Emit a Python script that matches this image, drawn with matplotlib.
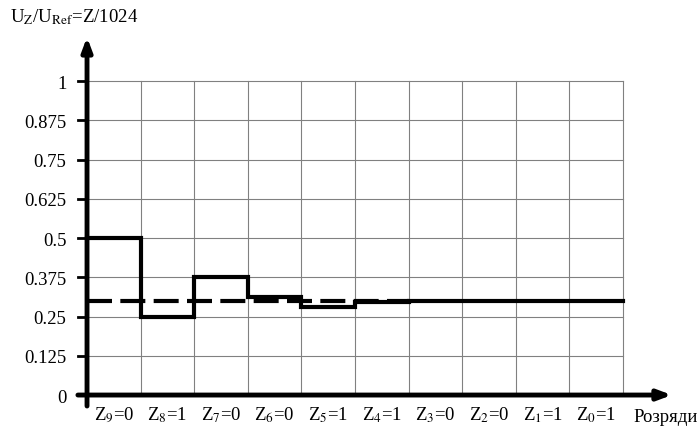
import numpy as np
import matplotlib.pyplot as plt

plt.rcParams['font.family'] = ['Liberation Serif', 'DejaVu Serif']
plt.rcParams['mathtext.fontset'] = 'stix'

# successive approximation trial values for bits Z9..Z0
bit_names = ['9', '8', '7', '6', '5', '4', '3', '2', '1', '0']
bit_values = [0, 1, 0, 0, 1, 1, 0, 0, 1, 1]
trial_levels = [0.5, 0.25, 0.375, 0.3125, 0.28125, 0.296875,
                0.3, 0.3, 0.3, 0.3]
input_level = 0.3
y_ticks = [0, 0.125, 0.25, 0.375, 0.5, 0.625, 0.75, 0.875, 1]
y_tick_labels = ['0', '0.125', '0.25', '0.375', '0.5', '0.625', '0.75', '0.875', '1']

fig = plt.figure(figsize=(6.99, 4.27), dpi=100)
ax = fig.add_axes([76.3 / 699, 0.0431, 605.7 / 699, 0.875])
ax.set_xlim(-0.2, 11.1)
ax.set_ylim(-0.04, 1.15)
for s in ax.spines.values():
    s.set_visible(False)

n = len(trial_levels)
# grid
for k in range(1, n + 1):
    ax.plot([k, k], [0, 1], color='#808080', lw=0.8, zorder=1)
for t in y_ticks[1:]:
    ax.plot([0, n], [t, t], color='#808080', lw=0.8, zorder=1)

# input level (dashed)
ax.plot([0, 6], [input_level, input_level], color='black', lw=3,
        dashes=(6, 2), zorder=2)

# trial levels
xs = np.arange(n + 1)
ys = trial_levels + [trial_levels[-1]]
ax.plot(xs, ys, drawstyle='steps-post', color='black', lw=3,
        solid_joinstyle='miter', zorder=3)

# axes arrows
ax.annotate('', xy=(0, 1.14), xytext=(0, -0.035),
            arrowprops=dict(arrowstyle='-|>,head_length=0.8,head_width=0.3',
                            lw=3.5, color='black', shrinkA=0, shrinkB=0),
            annotation_clip=False, zorder=4)
ax.annotate('', xy=(10.91, 0), xytext=(-0.17, 0),
            arrowprops=dict(arrowstyle='-|>,head_length=0.8,head_width=0.3',
                            lw=3.5, color='black', shrinkA=0, shrinkB=0),
            annotation_clip=False, zorder=4)

ax.set_yticks(y_ticks)
ax.set_yticklabels(y_tick_labels, fontsize=13.5)
ax.tick_params(axis='y', length=0, pad=7)
for t in y_ticks[1:]:
    ax.plot([-0.17, 0], [t, t], color='black', lw=2, clip_on=False, zorder=4)
ax.set_xticks([])

for k, (b, v) in enumerate(zip(bit_names, bit_values)):
    ax.text(k + 0.5, -0.078, f'Z$_{{{b}}}$=' + str(v), ha='center', va='baseline',
            fontsize=13.5)

fig.text(633 / 699, 1 - 422 / 427, 'Розряди', ha='left', va='baseline', fontsize=13.5)
fig.text(10 / 699, 1 - 17 / 427, r'U$_\mathrm{Z}$/U$_\mathrm{Ref}$=Z/1024',
         ha='left', va='center', fontsize=13.5)

fig.savefig('out.png', dpi=100)
